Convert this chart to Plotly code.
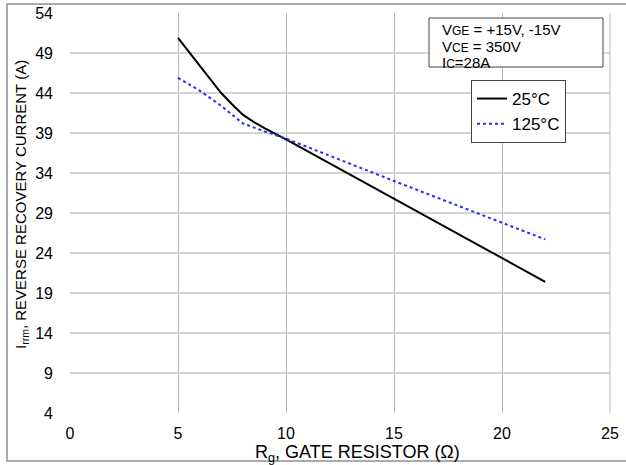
import plotly.graph_objects as go

# Data
rg_25 = [5, 6, 7, 7.5, 8, 8.5, 9, 10, 15, 20, 22]
irrm_25 = [50.9, 47.5, 44.0, 42.6, 41.3, 40.4, 39.6, 38.2, 30.8, 23.4, 20.4]

rg_125 = [5, 6, 7, 8, 9, 10, 15, 20, 22]
irrm_125 = [45.9, 44.3, 42.4, 40.2, 39.2, 38.3, 33.0, 27.8, 25.7]

series_names = ["25°C", "125°C"]
x_ticks = [0, 5, 10, 15, 20, 25]
y_ticks = [4, 9, 14, 19, 24, 29, 34, 39, 44, 49, 54]

FONT = "Arial, Liberation Sans, sans-serif"
W, H = 626, 465
L, R, T, B = 70, 16, 13, 52
PW, PH = W - L - R, H - T - B


def px(x):
    return (x - L) / PW


def py(y):
    return 1 - (y - T) / PH


fig = go.Figure()
fig.add_trace(go.Scatter(x=rg_25, y=irrm_25, mode="lines", name=series_names[0],
                         line=dict(color="black", width=2, dash="solid")))
fig.add_trace(go.Scatter(x=rg_125, y=irrm_125, mode="lines", name=series_names[1],
                         line=dict(color="#2a2aff", width=2, dash="dot")))

fig.update_layout(
    template="none",
    width=W, height=H,
    margin=dict(l=L, r=R, t=T, b=B, pad=0, autoexpand=False),
    paper_bgcolor="white", plot_bgcolor="white",
    font=dict(family=FONT, size=16, color="black"),
    showlegend=True,
    legend=dict(x=px(471), y=py(80), xanchor="left", yanchor="top",
                bordercolor="#444444", borderwidth=1, bgcolor="white",
                font=dict(size=17, family=FONT), itemwidth=30,
                tracegroupgap=0),
    xaxis=dict(range=[0, 25], tickvals=x_ticks, showgrid=True, gridcolor="#b8b8b8",
               gridwidth=1, zeroline=False, showline=False, ticks="", automargin=False,
               ticklabelstandoff=9, tickfont=dict(size=16, family=FONT)),
    yaxis=dict(range=[4, 54], tickvals=y_ticks, showgrid=True, gridcolor="#d4d4d4",
               gridwidth=1.5, zeroline=False, showline=False, ticks="", automargin=False,
               ticklabelstandoff=16, tickfont=dict(size=16, family=FONT)),
)

# Outer frame of the image
fig.add_shape(type="rect", xref="paper", yref="paper",
              x0=px(7), x1=px(640), y0=py(461), y1=py(4),
              line=dict(color="#909090", width=1.5), layer="above")

# Plot right edge line
fig.add_shape(type="line", xref="paper", yref="paper",
              x0=1, x1=1, y0=0, y1=1, line=dict(color="#d0d0d0", width=1.5))

# Axis titles
fig.add_annotation(text="R<sub>g</sub>, GATE RESISTOR (Ω)", xref="paper", yref="paper",
                   x=px(357), y=py(453), xanchor="center", yanchor="middle",
                   showarrow=False, font=dict(size=18, family=FONT))
fig.add_annotation(text="I<sub>rrm</sub>, REVERSE RECOVERY CURRENT (A)", xref="paper", yref="paper",
                   x=px(21), y=py(205), xanchor="center", yanchor="middle", textangle=-90,
                   showarrow=False, font=dict(size=15, family=FONT))

# Conditions box
fig.add_shape(type="rect", xref="paper", yref="paper",
              x0=px(429), x1=px(603), y0=py(67), y1=py(18),
              line=dict(color="#444444", width=1), fillcolor="white", layer="above")
cond_lines = [
    "V<span style='font-size:12px'>GE</span> = +15V, -15V",
    "V<span style='font-size:12px'>CE</span> = 350V",
    "I<span style='font-size:12px'>C</span>=28A",
]
cond_y = [30, 46.5, 62.5]
for t, yy in zip(cond_lines, cond_y):
    fig.add_annotation(text=t, xref="paper", yref="paper", x=px(440), y=py(yy),
                       xanchor="left", yanchor="middle", showarrow=False,
                       font=dict(size=15, family=FONT))

fig.write_html("out.html", config={"displayModeBar": False},
               post_script="document.body.style.margin='0';document.body.style.overflow='hidden';")
